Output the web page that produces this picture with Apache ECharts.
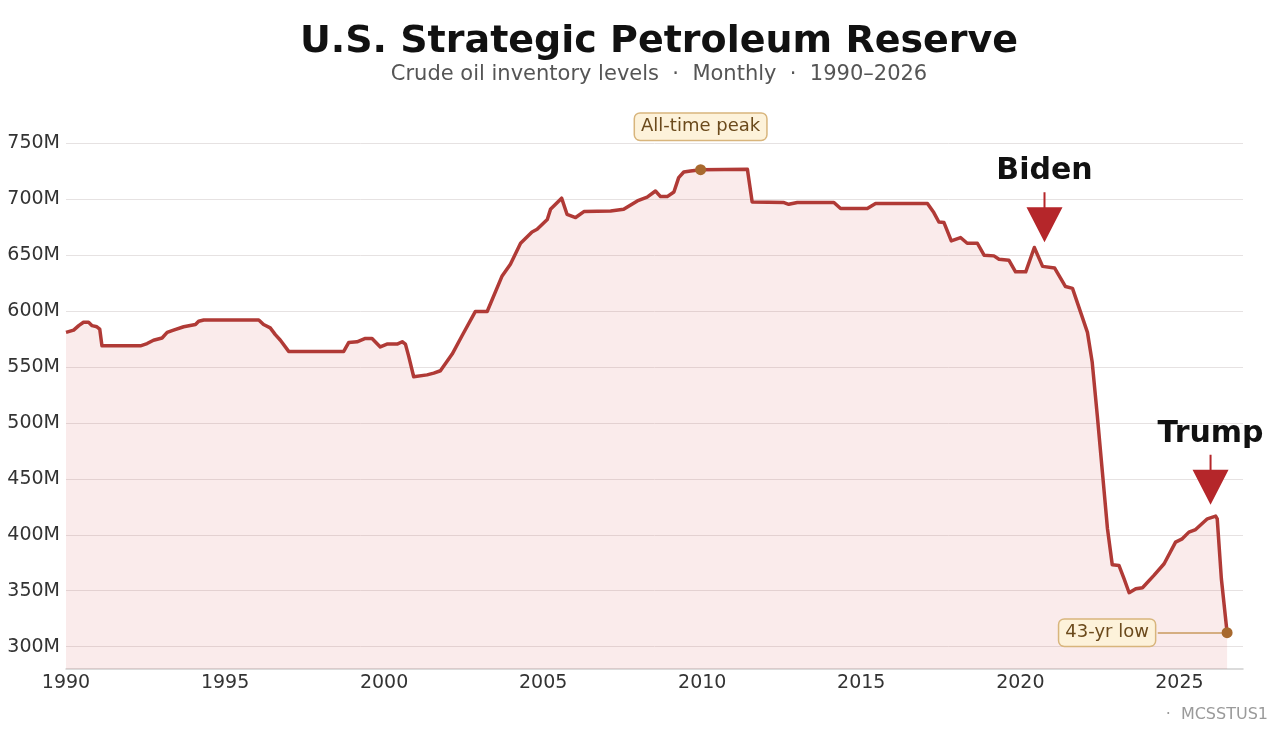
<!DOCTYPE html>
<html>
<head>
<meta charset="utf-8">
<script src="https://cdn.jsdelivr.net/npm/echarts@6/dist/echarts.min.js"></script>
<style>
  html, body { margin: 0; padding: 0; background: #ffffff; }
  #chart { width: 1278px; height: 736px; }
</style>
</head>
<body>
<div id="chart"></div>
<script>
// ---- Data ----
const years = [
  1990.00, 1990.24, 1990.40, 1990.55, 1990.71, 1990.82, 1990.97, 1991.06, 1991.13, 1992.34,
  1992.55, 1992.75, 1993.02, 1993.18, 1993.38, 1993.70, 1994.07, 1994.17, 1994.33, 1996.06,
  1996.21, 1996.42, 1996.58, 1996.74, 1997.00, 1998.73, 1998.89, 1999.15, 1999.41, 1999.62,
  1999.88, 2000.09, 2000.41, 2000.57, 2000.67, 2000.77, 2000.93, 2001.35, 2001.56, 2001.77,
  2002.14, 2002.45, 2002.87, 2003.24, 2003.71, 2003.97, 2004.29, 2004.65, 2004.81, 2005.13,
  2005.23, 2005.58, 2005.75, 2006.02, 2006.28, 2007.12, 2007.53, 2007.96, 2008.27, 2008.53,
  2008.69, 2008.90, 2009.11, 2009.26, 2009.42, 2009.63, 2009.95, 2011.42, 2011.57, 2012.57,
  2012.72, 2012.99, 2014.14, 2014.35, 2015.19, 2015.45, 2017.08, 2017.28, 2017.44, 2017.60,
  2017.83, 2018.12, 2018.33, 2018.65, 2018.86, 2019.17, 2019.33, 2019.64, 2019.85, 2020.17,
  2020.44, 2020.70, 2021.08, 2021.42, 2021.64, 2021.95, 2022.11, 2022.26, 2022.42, 2022.58,
  2022.74, 2022.89, 2023.10, 2023.26, 2023.42, 2023.63, 2023.84, 2024.20, 2024.52, 2024.88,
  2025.09, 2025.30, 2025.51, 2025.88, 2026.14, 2026.19, 2026.32, 2026.50
];
const inventoryM = [
  581, 583, 587, 590, 590, 587, 586, 584, 569, 569,
  571, 574, 576, 581, 583, 586, 588, 591, 592, 592,
  588, 585, 579, 574, 564, 564, 572, 572.6, 575.6, 575.6,
  568, 570.5, 570.5, 572.6, 570.5, 560, 541.3, 543, 544.6, 546.7,
  561.6, 578, 599.7, 599.7, 631.5, 642, 660.7, 670.8, 673.2, 682,
  691, 701, 686.6, 683.7, 689, 689.6, 691, 698.5, 702, 707.4,
  702.4, 702.4, 706.5, 719.4, 724.4, 725.3, 726.5, 726.8, 697.6, 697.1,
  695.5, 697.1, 697.1, 691.7, 691.7, 696.2, 696.2, 688.1, 679.7, 679.2,
  662.8, 665.8, 660.7, 660.7, 650, 649.4, 646.4, 645.5, 635.1, 635.1,
  656.9, 640, 638.5, 622, 620.3, 594.4, 581, 554.2, 506.5, 456,
  405.4, 373.2, 372.6, 360.7, 348.2, 351.8, 352.7, 363.7, 374.1, 393.5,
  396.4, 402.4, 404.7, 414.3, 416.7, 414.3, 360.7, 312.5
];
const xTickYears = [1990, 1995, 2000, 2005, 2010, 2015, 2020, 2025];
const yTickValues = [300, 350, 400, 450, 500, 550, 600, 650, 700, 750];

// Annotation anchors (data coordinates)
const peakPoint = [2009.95, 726.5];
const lowPoint = [2026.50, 312.5];
const lowConnectorStartYear = 2024.32;
const bidenPoint = [2020.76, 661.6];
const trumpPoint = [2025.98, 426.8];

const seriesData = years.map((y, i) => [y, inventoryM[i]]);

const FONT = "'DejaVu Sans', 'Noto Sans', sans-serif";
const arrowPath = 'path://M17,0L19,0L19,15L36,15L18,50L0,15L17,15Z';

const chart = echarts.init(document.getElementById('chart'), null, { renderer: 'canvas' });

const gridColors = [];
for (let i = 0; i < 5; i++) gridColors.push(i === 2 ? '#e6e2e2' : 'rgba(0,0,0,0)');

const calloutLabel = {
  show: true,
  color: '#6b4a1c',
  fontSize: 18,
  fontFamily: FONT,
  backgroundColor: '#fdf2da',
  borderColor: '#d8b57c',
  borderWidth: 1.5,
  borderRadius: 5,
  padding: [4, 6, 4, 6]
};

const option = {
  backgroundColor: '#ffffff',
  animation: false,
  textStyle: { fontFamily: FONT },
  title: {
    text: 'U.S. Strategic Petroleum Reserve',
    subtext: 'Crude oil inventory levels  ·  Monthly  ·  1990–2026',
    left: 654,
    top: 18,
    textAlign: 'center',
    itemGap: 3,
    textStyle: { fontFamily: FONT, fontSize: 38, fontWeight: 'bold', color: '#111111' },
    subtextStyle: { fontFamily: FONT, fontSize: 21, color: '#555555' }
  },
  grid: { left: 66, right: 35, top: 121, bottom: 67, containLabel: false },
  xAxis: {
    type: 'value',
    min: 1990,
    max: 2027,
    interval: 5,
    axisLine: { show: true, lineStyle: { color: '#cfcfcf', width: 1.5 } },
    axisTick: { show: false },
    splitLine: { show: false },
    axisLabel: {
      color: '#333333',
      fontSize: 19,
      fontFamily: FONT,
      margin: 5,
      formatter: v => (xTickYears.indexOf(v) >= 0 ? String(v) : '')
    }
  },
  yAxis: {
    type: 'value',
    min: 280,
    max: 770,
    interval: 10,
    axisLine: { show: false },
    axisTick: { show: false },
    splitLine: { show: true, lineStyle: { color: gridColors, width: 1 } },
    axisLabel: {
      color: '#333333',
      fontSize: 19,
      fontFamily: FONT,
      margin: 6,
      formatter: v => (yTickValues.indexOf(v) >= 0 ? v + 'M' : '')
    }
  },
  series: [
    {
      type: 'line',
      data: seriesData,
      symbol: 'none',
      smooth: false,
      lineStyle: { color: '#b03a36', width: 3.5, join: 'round' },
      areaStyle: { color: 'rgba(214, 80, 80, 0.16)', origin: 'start' },
      z: 3,
      markLine: {
        silent: true,
        symbol: ['none', 'none'],
        label: { show: false },
        lineStyle: { color: '#c99a5e', width: 1.5, type: 'solid' },
        data: [[{ coord: [lowConnectorStartYear, lowPoint[1]] }, { coord: lowPoint }]]
      },
      markPoint: {
        silent: true,
        data: [
          {
            coord: peakPoint,
            symbol: 'circle',
            symbolSize: 11,
            itemStyle: { color: '#a8692e' },
            label: Object.assign({}, calloutLabel, {
              formatter: 'All-time peak', position: 'inside', offset: [0, -43]
            })
          },
          {
            coord: lowPoint,
            symbol: 'circle',
            symbolSize: 11,
            itemStyle: { color: '#a8692e' },
            label: Object.assign({}, calloutLabel, {
              formatter: '43-yr low', position: 'inside', offset: [-120, 0]
            })
          },
          {
            coord: bidenPoint,
            symbol: arrowPath,
            symbolSize: [36, 50],
            symbolOffset: [0, -25],
            itemStyle: { color: '#b5262a' },
            label: {
              show: true, formatter: 'Biden', position: 'top', distance: 6,
              color: '#111111', fontSize: 30, fontWeight: 'bold', fontFamily: FONT
            }
          },
          {
            coord: trumpPoint,
            symbol: arrowPath,
            symbolSize: [36, 50],
            symbolOffset: [0, -25],
            itemStyle: { color: '#b5262a' },
            label: {
              show: true, formatter: 'Trump', position: 'top', distance: 6,
              color: '#111111', fontSize: 30, fontWeight: 'bold', fontFamily: FONT
            }
          }
        ]
      }
    }
  ],
  graphic: [
    {
      type: 'text',
      right: 10,
      top: 707,
      style: { text: '·  MCSSTUS1', fill: '#9a9a9a', fontSize: 16, fontFamily: FONT }
    }
  ]
};

chart.setOption(option);
</script>
</body>
</html>
